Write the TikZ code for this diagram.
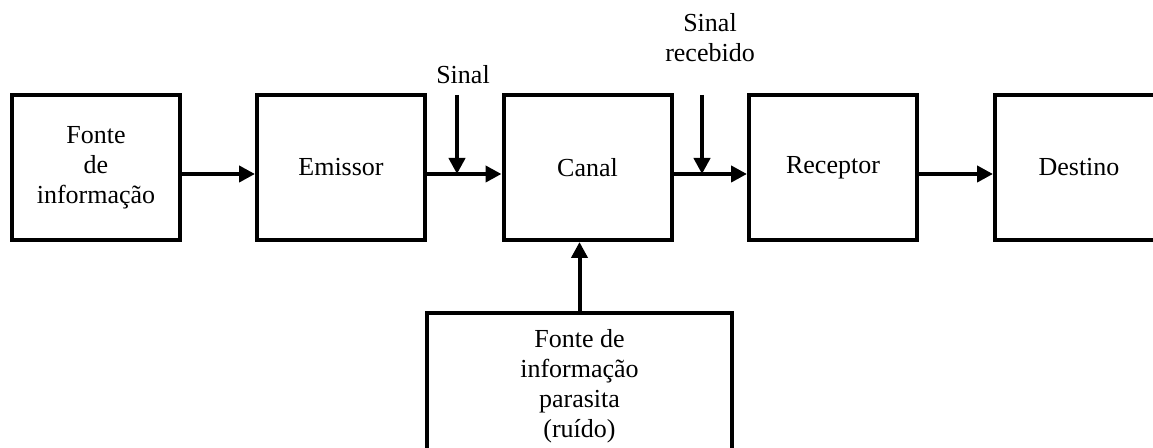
\documentclass[tikz,border=0pt]{standalone}
\usepackage{fontspec}
\setmainfont{Liberation Serif}
\usetikzlibrary{arrows.meta,calc}

\tikzset{every picture/.style={line width=3pt}}
\tikzset{bloco/.style={draw, minimum width=126pt, minimum height=108.75pt, inner sep=0.75pt, align=center, font=\fontsize{19.5}{22.5}\selectfont},
  rotulo/.style={inner sep=0.75pt, align=center, font=\fontsize{19.5}{22.5}\selectfont},
  seta/.style={-{Triangle[length=12pt,width=12pt]}}}

\begin{document}
\begin{tikzpicture}[x=0.75pt,y=0.75pt,yscale=-1,xscale=1]
\useasboundingbox (0,0) rectangle (1153,448);

%Shape: Rectangle
\node [bloco] (fonte) at (96,167.5) {Fonte\\de\\informação};
%Shape: Rectangle
\node [bloco] (emissor) at (341,167.5) {Emissor};
%Shape: Rectangle
\node [bloco] (canal) at (587.5,167.5) {Canal};
%Shape: Rectangle
\node [bloco] (receptor) at (833,167.5) {Receptor};
%Shape: Rectangle
\node [bloco] (destino) at (1079,167.5) {Destino};
%Shape: Rectangle
\node [bloco, minimum width=228.75pt, minimum height=110.25pt] (ruido) at (579.5,386.5) {Fonte de\\informação\\parasita\\(ruído)};

%Straight Lines
\draw [seta] ($(fonte.east)+(0,6.5)$) -- ($(emissor.west)+(0,6.5)$);
%Straight Lines
\draw [seta] ($(emissor.east)+(0,6.5)$) -- ($(canal.west)+(0,6.5)$);
%Straight Lines
\draw [seta] ($(canal.east)+(0,6.5)$) -- ($(receptor.west)+(0,6.5)$);
%Straight Lines
\draw [seta] ($(receptor.east)+(0,6.5)$) -- ($(destino.west)+(0,6.5)$);
%Straight Lines
\draw [seta] (ruido.north) -- (ruido.north |- canal.south);

\coordinate (sinalini) at (457,95);
\coordinate (sinalfim) at (457,174);
\coordinate (recebini) at (702,95);
\coordinate (recebfim) at (702,174);
%Straight Lines
\draw [seta] (sinalini) -- (sinalfim);
%Straight Lines
\draw [seta] (recebini) -- (recebfim);

% Text Node
\node [rotulo] (sinal) at (463,75) {Sinal};
% Text Node
\node [rotulo] (recebido) at (710,38) {Sinal\\recebido};

\end{tikzpicture}
\end{document}
